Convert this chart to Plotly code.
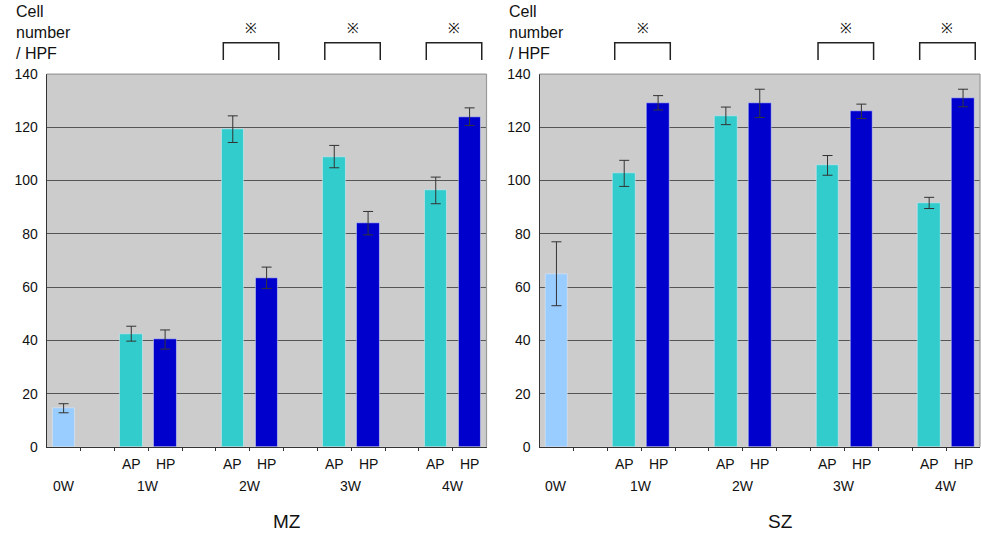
import plotly.graph_objects as go

# ---------------- data ----------------
weeks = ["0W", "1W", "2W", "3W", "4W"]
groups = ["AP", "HP"]
y_ticks = [0, 20, 40, 60, 80, 100, 120, 140]

mz_0w = 14.5
mz_0w_err = 1.7
mz_ap = [42.5, 119.3, 109.0, 96.3]
mz_ap_err = [2.8, 5.0, 4.2, 5.0]
mz_hp = [40.3, 63.5, 84.0, 124.0]
mz_hp_err = [3.6, 4.0, 4.4, 3.3]
mz_sig = [False, True, True, True]

sz_0w = 65.0
sz_0w_err = 12.0
sz_ap = [102.7, 124.3, 105.7, 91.6]
sz_ap_err = [4.9, 3.3, 3.7, 2.1]
sz_hp = [129.2, 129.0, 126.0, 131.0]
sz_hp_err = [2.7, 5.3, 2.7, 3.3]
sz_sig = [True, False, True, True]

panel_titles = ["MZ", "SZ"]
y_label = "Cell<br>number<br>/ HPF"
sig_mark = "※"

# ---------------- style ----------------
FONT = "Arial, Liberation Sans, sans-serif"
C0 = "#99CCFF"
CAP = "#33CCCC"
CHP = "#0000CC"
W, H = 981, 544

# vertical calibration of the rendered page (observed: shown = 7.74 + 0.9737 * layout px)
V_OFF, V_SCALE = 7.74, 0.9737


def py(pix):
    inner = (pix - V_OFF) / V_SCALE
    return (H - inner) / H


def px(pix):
    return pix / W


fig = go.Figure()

panels = [
    dict(xa="x", ya="y", v0=mz_0w, e0=mz_0w_err, ap=mz_ap, ape=mz_ap_err,
         hp=mz_hp, hpe=mz_hp_err, sig=mz_sig, dom=[px(46.7), px(486.5)], lab_x=14),
    dict(xa="x2", ya="y2", v0=sz_0w, e0=sz_0w_err, ap=sz_ap, ape=sz_ap_err,
         hp=sz_hp, hpe=sz_hp_err, sig=sz_sig, dom=[px(539.5), px(980)], lab_x=507),
]

ap_pos = [3 * i - 1 for i in range(1, 5)]
hp_pos = [3 * i for i in range(1, 5)]
week_pos = [0] + [3 * i - 0.5 for i in range(1, 5)]

err_style = dict(type="data", color="#333333", thickness=1, width=5, visible=True)

annotations = []
shapes = []


def txt(x, y, text, xref, size=14, **kw):
    d = dict(x=x, y=y, xref=xref, yref="paper", text=text, showarrow=False,
             xanchor="center", yanchor="middle",
             font=dict(size=size, color="#111", family=FONT))
    d.update(kw)
    return d


for k, p in enumerate(panels):
    fig.add_trace(go.Bar(x=[0], y=[p["v0"]], width=0.67, marker_color=C0,
                         error_y=dict(array=[p["e0"]], **err_style),
                         xaxis=p["xa"], yaxis=p["ya"], showlegend=False))
    fig.add_trace(go.Bar(x=ap_pos, y=p["ap"], width=0.67, marker_color=CAP,
                         error_y=dict(array=p["ape"], **err_style),
                         xaxis=p["xa"], yaxis=p["ya"], showlegend=False))
    fig.add_trace(go.Bar(x=hp_pos, y=p["hp"], width=0.67, marker_color=CHP,
                         error_y=dict(array=p["hpe"], **err_style),
                         xaxis=p["xa"], yaxis=p["ya"], showlegend=False))

    for a, h in zip(ap_pos, hp_pos):
        annotations.append(txt(a, py(465), groups[0], p["xa"]))
        annotations.append(txt(h, py(465), groups[1], p["xa"]))
    for wk, wp in zip(weeks, week_pos):
        annotations.append(txt(wp, py(487), wk, p["xa"]))
    annotations.append(txt(6.6, py(523), panel_titles[k], p["xa"], size=19))
    annotations.append(txt(px(p["lab_x"]), py(32), y_label, "paper", size=16,
                           xanchor="left", align="left"))
    for i, s in enumerate(p["sig"]):
        if not s:
            continue
        x0 = ap_pos[i] - 0.28
        x1 = hp_pos[i] + 0.36
        shapes.append(dict(type="path", xref=p["xa"], yref="paper",
                           path=f"M {x0},{py(60)} L {x0},{py(42.7)} L {x1},{py(42.7)} L {x1},{py(60)}",
                           line=dict(color="#222", width=1.5)))
        annotations.append(txt((x0 + x1) / 2, py(28), sig_mark, p["xa"], size=14))
    ydom = "y domain" if p["ya"] == "y" else "y2 domain"
    xdom = "x domain" if p["xa"] == "x" else "x2 domain"
    shapes.append(dict(type="line", xref=xdom, yref=ydom, x0=0, x1=1, y0=1, y1=1,
                       line=dict(color="#999999", width=1.2), layer="above"))
    shapes.append(dict(type="line", xref=xdom, yref=ydom, x0=1, x1=1, y0=0, y1=1,
                       line=dict(color="#999999", width=1.2), layer="above"))

xcommon = dict(range=[-0.5, 12.5], tickvals=[i + 0.5 for i in range(12)], ticktext=[""] * 12,
               ticks="outside", ticklen=3, tickcolor="#333", showgrid=False, zeroline=False,
               showline=True, linecolor="#333", linewidth=1.2, fixedrange=True)
ycommon = dict(range=[0, 140], tickvals=y_ticks, showgrid=True, gridcolor="#555555", gridwidth=1,
               zeroline=False, showline=True, linecolor="#333", linewidth=1.2,
               ticks="outside", ticklen=5, tickcolor="rgba(0,0,0,0)",
               tickfont=dict(size=14, color="#111", family=FONT), fixedrange=True)

fig.update_layout(
    width=W, height=H, autosize=False,
    margin=dict(l=0, r=0, t=0, b=0),
    paper_bgcolor="white",
    plot_bgcolor="#CCCCCC",
    font=dict(family=FONT),
    bargap=0,
    xaxis=dict(domain=panels[0]["dom"], anchor="y", **xcommon),
    yaxis=dict(domain=[py(448), py(74)], anchor="x", **ycommon),
    xaxis2=dict(domain=panels[1]["dom"], anchor="y2", **xcommon),
    yaxis2=dict(domain=[py(448), py(74)], anchor="x2", **ycommon),
    annotations=annotations,
    shapes=shapes,
    showlegend=False,
)

page_css = (
    "var s=document.createElement('style');"
    "s.textContent='html,body{margin:0!important;padding:0!important;overflow:hidden!important;"
    "width:981px;height:544px;}';"
    "document.head.appendChild(s);"
)

fig.write_html(
    "out.html",
    config={"responsive": False, "displayModeBar": False},
    post_script=page_css,
)
